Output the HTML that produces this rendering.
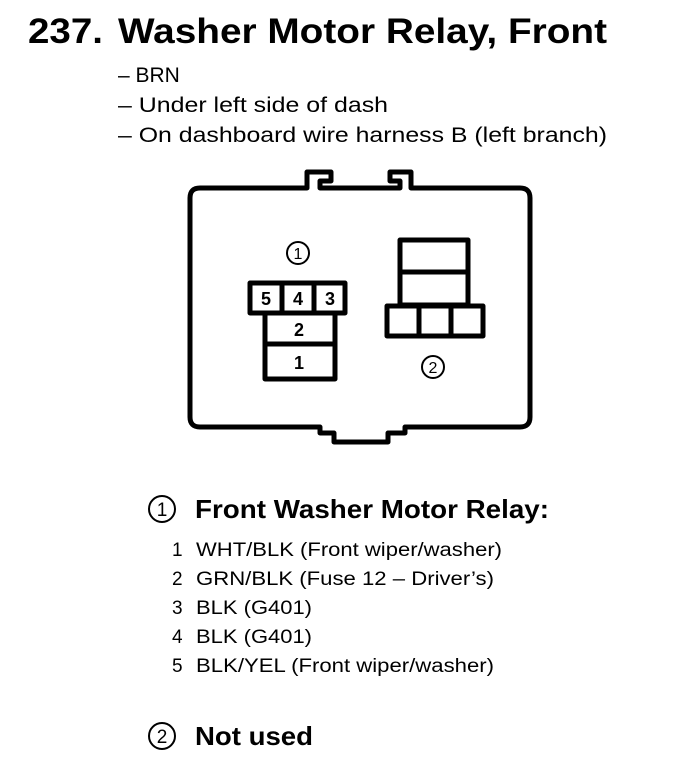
<!DOCTYPE html>
<html><head><meta charset="utf-8"><style>
html,body{margin:0;padding:0;background:#fff;}
svg{display:block;}
text{font-family:"Liberation Sans",Arial,sans-serif;fill:#000;}
</style></head><body>
<svg width="688" height="784" viewBox="0 0 688 784" xmlns="http://www.w3.org/2000/svg">
<text x="28" y="43" font-size="35" font-weight="bold" textLength="75" lengthAdjust="spacingAndGlyphs">237.</text>
<text x="118" y="43" font-size="35" font-weight="bold" textLength="489" lengthAdjust="spacingAndGlyphs">Washer Motor Relay, Front</text>
<text x="118" y="82" font-size="21">– BRN</text>
<text x="118" y="112" font-size="21" textLength="270" lengthAdjust="spacingAndGlyphs">– Under left side of dash</text>
<text x="118" y="142" font-size="21" textLength="489" lengthAdjust="spacingAndGlyphs">– On dashboard wire harness B (left branch)</text>

<g fill="none" stroke="#000" stroke-width="5" stroke-linejoin="round">
<path d="M200 188 L307 188 L307 172 L331 172 L331 181 L320 181 L320 188 L400 188 L400 181 L390 181 L390 172 L411 172 L411 188 L520 188 Q530 188 530 198 L530 417 Q530 427 520 427 L405 427 L405 433 L388 433 L388 442 L334 442 L334 433 L320 433 L320 427 L200 427 Q190 427 190 417 L190 198 Q190 188 200 188 Z"/>
<rect x="250" y="283" width="95" height="30"/>
<line x1="282" y1="283" x2="282" y2="313"/>
<line x1="314" y1="283" x2="314" y2="313"/>
<rect x="265" y="313" width="70" height="66"/>
<line x1="265" y1="344" x2="335" y2="344"/>
<rect x="400" y="240" width="68" height="65"/>
<line x1="400" y1="272" x2="468" y2="272"/>
<rect x="387" y="306" width="96" height="30"/>
<line x1="419" y1="306" x2="419" y2="336"/>
<line x1="451" y1="306" x2="451" y2="336"/>
</g>
<g font-weight="bold" font-size="18" text-anchor="middle">
<text x="266" y="305">5</text><text x="298" y="305">4</text><text x="330" y="305">3</text>
<text x="299" y="336">2</text><text x="299" y="369">1</text>
</g>
<g fill="none" stroke="#000" stroke-width="2">
<circle cx="298" cy="253" r="11"/>
<circle cx="433" cy="367" r="11"/>
<circle cx="162" cy="509" r="13"/>
<circle cx="162" cy="736" r="13"/>
</g>
<g text-anchor="middle" font-size="16">
<text x="298" y="259">1</text><text x="433" y="373">2</text>
<text x="162" y="516" font-size="19">1</text><text x="162" y="743" font-size="19">2</text>
</g>
<text x="195" y="518" font-size="26" font-weight="bold" textLength="354" lengthAdjust="spacingAndGlyphs">Front Washer Motor Relay:</text>
<g font-size="19">
<text x="172" y="556">1</text><text x="196" y="556" textLength="306" lengthAdjust="spacingAndGlyphs">WHT/BLK (Front wiper/washer)</text>
<text x="172" y="585">2</text><text x="196" y="585" textLength="298" lengthAdjust="spacingAndGlyphs">GRN/BLK (Fuse 12 – Driver’s)</text>
<text x="172" y="614">3</text><text x="196" y="614" textLength="116" lengthAdjust="spacingAndGlyphs">BLK (G401)</text>
<text x="172" y="643">4</text><text x="196" y="643" textLength="116" lengthAdjust="spacingAndGlyphs">BLK (G401)</text>
<text x="172" y="672">5</text><text x="196" y="672" textLength="298" lengthAdjust="spacingAndGlyphs">BLK/YEL (Front wiper/washer)</text>
</g>
<text x="195" y="745" font-size="26" font-weight="bold" textLength="118" lengthAdjust="spacingAndGlyphs">Not used</text>
</svg>
</body></html>
